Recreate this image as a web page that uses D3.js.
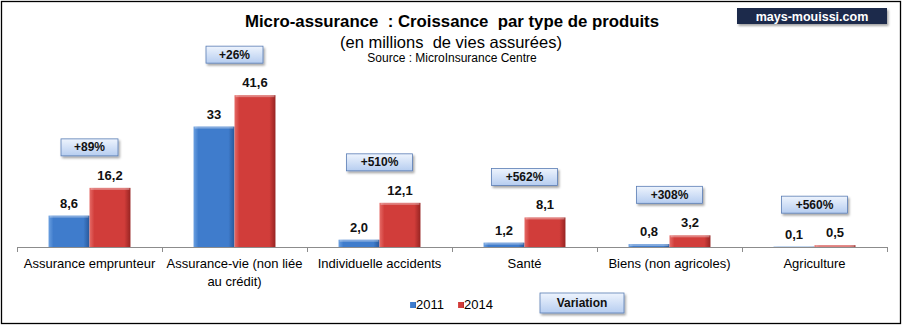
<!DOCTYPE html>
<html>
<head>
<meta charset="utf-8">
<script src="https://cdn.jsdelivr.net/npm/d3@7"></script>
<style>
  html, body { margin: 0; padding: 0; background: #fff; }
  svg { display: block; font-family: "Liberation Sans", Arial, sans-serif; }
</style>
</head>
<body>
<svg id="chart" width="903" height="326"></svg>
<script>
// Product types and insured lives (millions)
const categories = [
  "Assurance emprunteur",
  "Assurance-vie (non liée au crédit)",
  "Individuelle accidents",
  "Santé",
  "Biens (non agricoles)",
  "Agriculture"
];
const years = ["2011", "2014"];
const values2011 = [8.6, 33, 2.0, 1.2, 0.8, 0.1];
const values2014 = [16.2, 41.6, 12.1, 8.1, 3.2, 0.5];
const labels2011 = ["8,6", "33", "2,0", "1,2", "0,8", "0,1"];
const labels2014 = ["16,2", "41,6", "12,1", "8,1", "3,2", "0,5"];
const variations = ["+89%", "+26%", "+510%", "+562%", "+308%", "+560%"];

const W = 903, H = 326;
const svg = d3.select("#chart");
const defs = svg.append("defs");

// bevelled bar fills
function barGradient(id, light, mid, dark) {
  const g = defs.append("linearGradient").attr("id", id)
    .attr("x1", "0").attr("x2", "1").attr("y1", "0").attr("y2", "0");
  g.append("stop").attr("offset", "0").attr("stop-color", light);
  g.append("stop").attr("offset", "0.12").attr("stop-color", mid);
  g.append("stop").attr("offset", "0.85").attr("stop-color", mid);
  g.append("stop").attr("offset", "1").attr("stop-color", dark);
}
barGradient("g2011", "#6a9fe0", "#3f7ccc", "#28589a");
barGradient("g2014", "#e56a66", "#d13d3a", "#972422");

const boxGrad = defs.append("linearGradient").attr("id", "gbox")
  .attr("x1", "0").attr("x2", "0").attr("y1", "0").attr("y2", "1");
boxGrad.append("stop").attr("offset", "0").attr("stop-color", "#eef4fd");
boxGrad.append("stop").attr("offset", "1").attr("stop-color", "#b6cdf0");

const shadow = defs.append("filter").attr("id", "shadow")
  .attr("x", "-20%").attr("y", "-30%").attr("width", "150%").attr("height", "180%");
shadow.append("feDropShadow").attr("dx", 1.5).attr("dy", 2).attr("stdDeviation", 1.2)
  .attr("flood-color", "#000").attr("flood-opacity", 0.35);

// outer frame
svg.append("rect").attr("x", 1.5).attr("y", 1.5).attr("width", W - 4).attr("height", H - 4)
  .attr("fill", "#fff").attr("stroke", "#000").attr("stroke-width", 1.3);

// titles
svg.append("text").attr("x", 452).attr("y", 27).attr("text-anchor", "middle")
  .attr("font-size", 16.8).attr("font-weight", "bold").attr("fill", "#000")
  .attr("xml:space", "preserve")
  .text("Micro-assurance  : Croissance  par type de produits");
svg.append("text").attr("x", 451).attr("y", 48).attr("text-anchor", "middle")
  .attr("font-size", 16.5).attr("fill", "#000")
  .attr("xml:space", "preserve")
  .text("(en millions  de vies assurées)");
svg.append("text").attr("x", 452).attr("y", 62).attr("text-anchor", "middle")
  .attr("font-size", 12).attr("fill", "#000")
  .text("Source : MicroInsurance Centre");

// site badge
svg.append("rect").attr("x", 737).attr("y", 8).attr("width", 150).attr("height", 16)
  .attr("fill", "#1d2b4c").attr("filter", "url(#shadow)");
svg.append("text").attr("x", 812).attr("y", 20.5).attr("text-anchor", "middle")
  .attr("font-size", 12.5).attr("font-weight", "bold").attr("fill", "#fff")
  .text("mays-mouissi.com");

// scales
const x0 = d3.scaleBand().domain(categories).range([17, 887]).paddingInner(0).paddingOuter(0);
const x1 = d3.scaleBand().domain(years).range([0, x0.bandwidth()]).paddingInner(0).paddingOuter(0.77);
const y = d3.scaleLinear().domain([0, 45]).range([247, 82.75]);

const data = categories.map((c, i) => ({
  cat: c,
  bars: [
    { year: "2011", v: values2011[i], label: labels2011[i] },
    { year: "2014", v: values2014[i], label: labels2014[i] }
  ],
  variation: variations[i]
}));

const groups = svg.append("g").selectAll("g").data(data).join("g")
  .attr("transform", d => `translate(${x0(d.cat)},0)`);

groups.selectAll("rect.bar").data(d => d.bars).join("rect")
  .attr("class", "bar")
  .attr("x", b => x1(b.year))
  .attr("y", b => y(b.v))
  .attr("width", x1.bandwidth())
  .attr("height", b => y(0) - y(b.v))
  .attr("fill", b => `url(#g${b.year})`);

// top highlight of each bar
groups.selectAll("rect.hl").data(d => d.bars).join("rect")
  .attr("class", "hl")
  .attr("x", b => x1(b.year) + 1)
  .attr("y", b => y(b.v))
  .attr("width", x1.bandwidth() - 2)
  .attr("height", b => Math.min(2, y(0) - y(b.v)))
  .attr("fill", "#fff").attr("opacity", 0.35);

groups.selectAll("text.val").data(d => d.bars).join("text")
  .attr("class", "val")
  .attr("x", b => x1(b.year) + x1.bandwidth() / 2)
  .attr("y", b => y(b.v) - 8)
  .attr("text-anchor", "middle")
  .attr("font-size", 13).attr("font-weight", "bold").attr("fill", "#111")
  .text(b => b.label);

// variation callouts above each pair
groups.each(function (d) {
  const g = d3.select(this);
  const top = y(d3.max(d.bars, b => b.v));
  const w = d.variation.length > 4 ? 66 : 57;
  const cx = x0.bandwidth() / 2;
  g.append("rect")
    .attr("x", cx - w / 2).attr("y", top - 32 - 17)
    .attr("width", w).attr("height", 17)
    .attr("fill", "url(#gbox)").attr("stroke", "#5a7db5").attr("stroke-width", 0.8)
    .attr("filter", "url(#shadow)");
  g.append("text")
    .attr("x", cx).attr("y", top - 32 - 4.5)
    .attr("text-anchor", "middle")
    .attr("font-size", 12).attr("font-weight", "bold").attr("fill", "#111")
    .text(d.variation);
});

// category axis
const axisG = svg.append("g");
axisG.append("line").attr("x1", 17).attr("x2", 887).attr("y1", 247.5).attr("y2", 247.5)
  .attr("stroke", "#8c8c8c").attr("stroke-width", 1);
const tickPos = categories.map(c => x0(c)).concat([x0.range()[1]]);
axisG.selectAll("line.tick").data(tickPos).join("line")
  .attr("class", "tick")
  .attr("x1", d => Math.round(d) + 0.5).attr("x2", d => Math.round(d) + 0.5)
  .attr("y1", 247).attr("y2", 252)
  .attr("stroke", "#8c8c8c");

// wrap category labels inside their band
function wrapLines(text, width, size) {
  const words = text.split(" ");
  const lines = [];
  let cur = "";
  const ctx = document.createElement("canvas").getContext("2d");
  ctx.font = `${size}px "Liberation Sans", Arial, sans-serif`;
  words.forEach(w => {
    const t = cur ? cur + " " + w : w;
    if (ctx.measureText(t).width > width && cur) { lines.push(cur); cur = w; }
    else cur = t;
  });
  if (cur) lines.push(cur);
  return lines;
}
categories.forEach(c => {
  const lines = wrapLines(c, x0.bandwidth() - 2, 13);
  const t = axisG.append("text")
    .attr("x", x0(c) + x0.bandwidth() / 2).attr("y", 268)
    .attr("text-anchor", "middle").attr("font-size", 13).attr("fill", "#000");
  lines.forEach((l, i) => t.append("tspan")
    .attr("x", x0(c) + x0.bandwidth() / 2).attr("dy", i === 0 ? 0 : 18).text(l));
});

// legend
const legend = svg.append("g");
const legendItems = [
  { year: "2011", x: 410 },
  { year: "2014", x: 458 }
];
legend.selectAll("rect").data(legendItems).join("rect")
  .attr("x", d => d.x).attr("y", 302).attr("width", 6).attr("height", 6)
  .attr("fill", d => `url(#g${d.year})`);
legend.selectAll("text").data(legendItems).join("text")
  .attr("x", d => d.x + 6).attr("y", 309)
  .attr("font-size", 13).attr("fill", "#000")
  .text(d => d.year);
legend.append("rect").attr("x", 540).attr("y", 293).attr("width", 84).attr("height", 20)
  .attr("fill", "url(#gbox)").attr("stroke", "#5a7db5").attr("stroke-width", 0.8)
  .attr("filter", "url(#shadow)");
legend.append("text").attr("x", 582).attr("y", 307).attr("text-anchor", "middle")
  .attr("font-size", 12).attr("font-weight", "bold").attr("fill", "#111")
  .text("Variation");
</script>
</body>
</html>
